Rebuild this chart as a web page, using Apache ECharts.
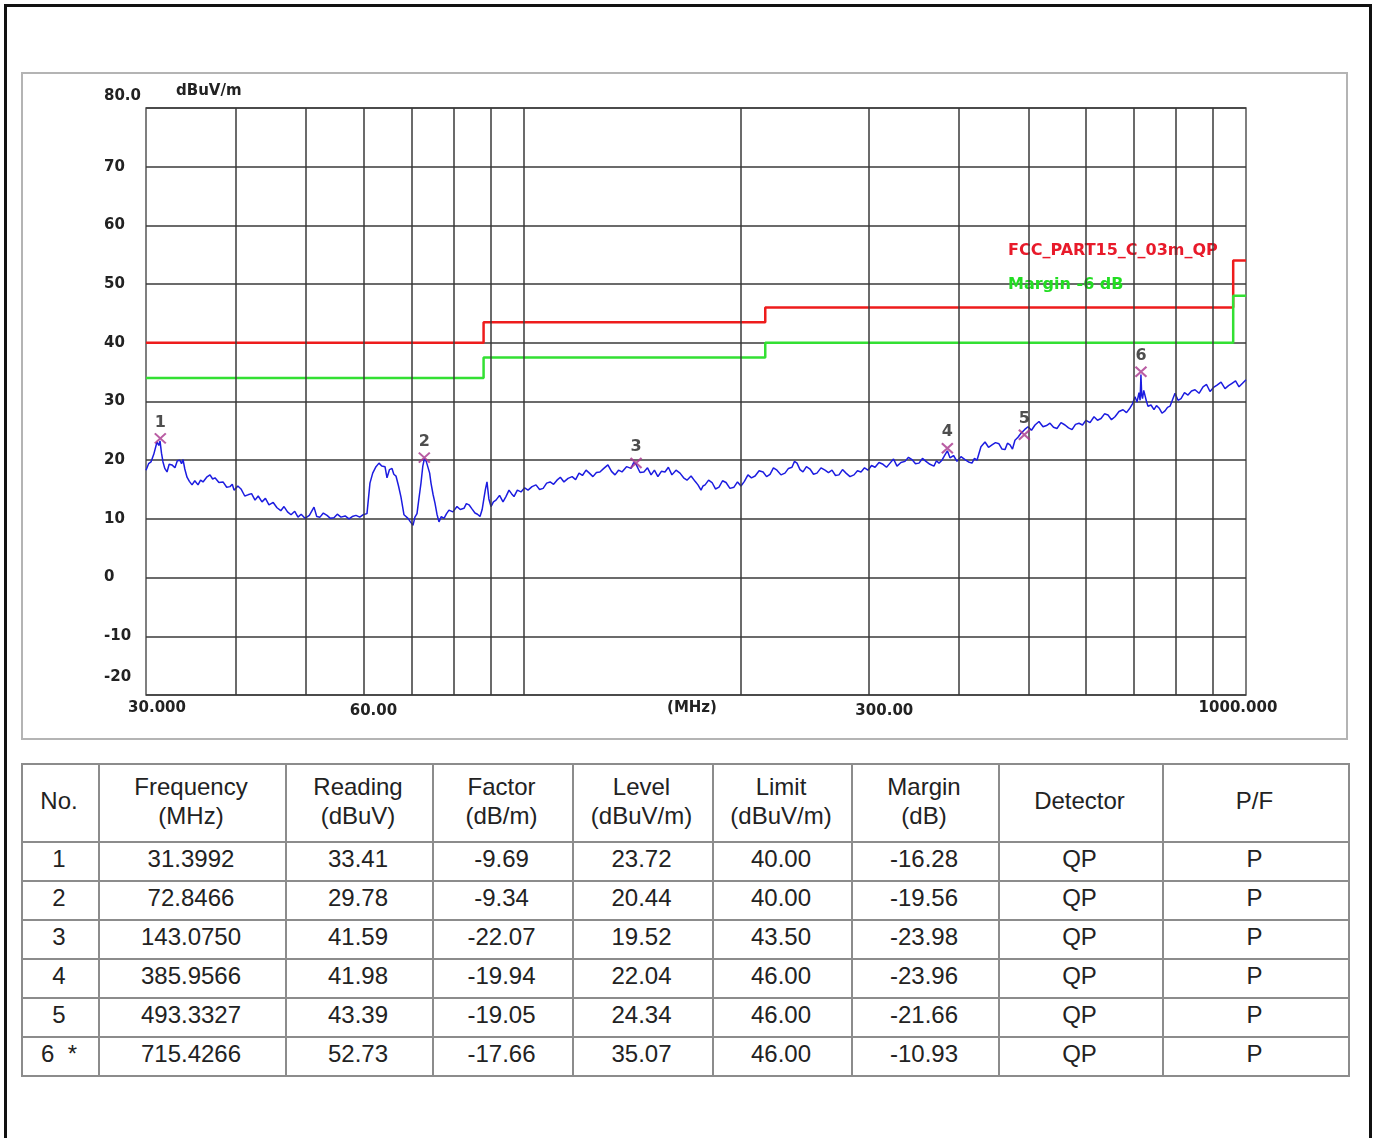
<!DOCTYPE html>
<html><head><meta charset="utf-8">
<script src="https://cdn.jsdelivr.net/npm/echarts@6/dist/echarts.min.js"></script>
<style>
html,body{margin:0;padding:0;background:#fff;width:1377px;height:1138px;overflow:hidden;position:relative;}
#frame{position:absolute;left:4px;top:4px;width:1362px;height:1200px;border:3px solid #111;}
#box{position:absolute;left:21px;top:72px;width:1323px;height:664px;border:2px solid #b4b4b4;}
#chart{position:absolute;left:0;top:0;width:1377px;height:750px;}
table{position:absolute;left:21px;top:763px;width:1327px;table-layout:fixed;border-collapse:collapse;font-family:"Liberation Sans",Arial,sans-serif;font-size:24px;color:#222;}
td,th{border:2px solid #8c8c8c;text-align:center;font-weight:normal;padding:0 3px 5px 0;}
thead tr{height:78px;} th{line-height:29px;}
tbody tr{height:39px;}
</style></head>
<body>
<div id="frame"></div>
<div id="box"></div>
<div id="chart"></div>
<table id="tbl"><colgroup><col style="width:77px"><col style="width:187px"><col style="width:147px"><col style="width:140px"><col style="width:140px"><col style="width:139px"><col style="width:147px"><col style="width:164px"><col style="width:186px"></colgroup><thead></thead><tbody></tbody></table>
<script>
// ---------- data ----------
const gridFreqs = [40,50,60,70,80,90,100,200,300,400,500,600,700,800,900];
const xTickFreqs = [30,60,171,300,1000];
const xTickLabels = ['30.000','60.00','(MHz)','300.00','1000.000'];
const yAxisTitle = 'dBuV/m';
const limitName = 'FCC_PART15_C_03m_QP';
const marginName = 'Margin -6 dB';
const limitFreq  = [30,88,88,216,216,960,960,1000];
const limitLevel = [40,40,43.5,43.5,46,46,54,54];
const marginLevel = [34,34,37.5,37.5,40,40,48,48];

// measured trace: [frequency MHz, level dBuV/m]
const tracePoints = [
[30.00,18.3],[30.25,19.4],[30.48,19.7],[30.75,21.0],[31.07,23.1],[31.25,22.5],[31.37,23.3],[31.52,21.2],[31.67,19.7],[31.85,18.6],
[32.08,18.0],[32.3,19.3],[32.59,19.2],[32.9,18.7],[33.15,19.9],[33.43,20.0],[33.6,19.4],[33.76,20.1],[33.95,18.5],[34.19,17.1],
[34.45,16.4],[34.74,15.8],[35.05,16.5],[35.41,15.8],[35.7,16.6],[35.98,16.3],[36.4,17.1],[36.79,17.5],[37.1,16.8],[37.38,17.0],
[37.85,16.2],[38.35,16.3],[38.8,15.4],[39.21,15.5],[39.5,15.9],[39.72,14.9],[40.2,15.6],[40.61,15.1],[41.1,13.9],[41.53,14.1],
[42.0,14.3],[42.47,13.2],[42.9,13.9],[43.42,12.9],[43.9,13.5],[44.40,12.4],[45.0,12.8],[45.55,11.9],[46.1,11.4],[46.58,12.1],
[47.1,11.2],[47.63,10.7],[48.2,11.3],[48.70,10.3],[49.2,10.8],[49.80,10.1],[50.5,10.6],[51.25,12.0],[51.7,10.4],[52.24,10.3],
[52.8,11.0],[53.42,10.6],[54.0,10.1],[54.62,10.2],[55.2,10.8],[55.85,10.3],[56.6,10.5],[57.30,10.0],[57.9,10.4],[58.59,10.6],
[59.3,10.3],[59.91,10.7],[60.68,10.9],[61.26,16.1],[61.8,17.8],[62.45,18.9],[63.05,19.5],[63.6,19.0],[64.27,18.9],[64.68,17.0],
[65.2,18.4],[65.72,18.6],[66.1,17.6],[66.56,17.3],[67.1,15.6],[67.63,13.7],[68.28,10.7],[68.7,10.5],[69.16,10.1],[69.7,9.5],
[70.27,8.9],[70.7,10.3],[71.17,10.9],[71.6,13.4],[72.08,16.1],[72.5,19.0],[72.85,20.2],[73.3,19.8],[73.71,19.5],[74.1,17.8],
[74.42,16.1],[74.9,14.2],[75.37,12.7],[75.85,10.8],[76.34,9.5],[76.9,10.4],[77.57,10.1],[78.2,10.9],[78.81,11.5],[79.8,11.2],
[80.85,12.1],[81.7,11.6],[82.67,11.8],[83.3,12.6],[84.00,12.4],[84.8,11.7],[85.62,11.0],[86.3,10.8],[87.00,10.4],[87.6,11.6],
[88.12,13.6],[88.5,15.0],[88.96,16.3],[89.5,13.4],[90.11,12.1],[90.8,12.9],[91.55,13.2],[92.6,14.0],[93.62,12.9],[94.5,13.8],
[95.43,14.9],[96.2,14.3],[96.96,13.8],[98.0,14.9],[99.15,14.6],[100.3,15.3],[101.4,14.9],[102.7,15.5],[104.0,15.8],[105.2,15.0],
[106.4,15.2],[107.6,16.1],[108.8,16.3],[110.0,15.9],[111.2,16.6],[112.4,17.1],[113.7,16.3],[115.2,16.9],[116.7,17.2],[118.0,16.7],
[119.3,17.8],[120.6,17.4],[122.0,18.3],[123.3,17.8],[124.7,17.2],[126.1,17.9],[127.5,18.0],[129.1,18.6],[130.8,19.2],[132.3,18.1],
[133.8,17.5],[135.3,18.3],[136.8,18.0],[138.8,18.9],[140.8,18.6],[142.0,19.6],[143.1,19.3],[144.9,17.9],[146.7,18.0],[148.4,18.7],
[150.1,17.5],[151.7,18.3],[153.4,17.2],[155.1,18.1],[156.9,18.0],[158.6,18.8],[160.4,17.5],[162.5,18.3],[164.6,17.8],[166.5,17.0],
[168.3,16.6],[170.5,17.3],[172.7,16.4],[174.3,15.8],[176.0,14.9],[177.1,15.6],[178.3,15.8],[180.3,16.6],[182.3,16.2],[184.3,15.1],
[186.4,15.4],[188.5,16.5],[190.6,16.2],[193.0,15.2],[195.5,15.4],[197.7,16.3],[199.9,15.6],[202.1,16.4],[204.4,17.5],[206.7,17.0],
[209.1,17.3],[211.8,18.2],[214.5,18.0],[216.9,17.2],[219.3,17.6],[221.7,18.7],[224.2,18.3],[227.1,17.5],[230.0,17.8],[232.6,18.6],
[235.2,18.8],[237.1,19.8],[239.0,19.5],[241.3,18.4],[243.6,18.0],[246.3,18.9],[249.1,18.5],[251.9,17.6],[254.7,17.8],[258.0,18.7],
[261.3,18.3],[264.2,17.9],[267.2,18.3],[270.2,17.4],[273.2,17.5],[276.3,18.4],[279.4,17.8],[283.0,17.2],[286.6,17.5],[289.8,18.2],
[293.1,18.0],[296.4,18.7],[299.7,18.3],[303.1,19.1],[306.5,18.8],[310.4,19.6],[314.4,19.3],[317.9,18.8],[321.5,19.5],[325.1,20.2],
[328.7,19.0],[332.9,19.6],[337.2,19.8],[341.0,20.5],[344.8,20.1],[348.7,19.4],[352.6,19.5],[356.5,20.3],[360.5,19.8],[365.1,19.3],
[369.8,19.0],[372.8,19.9],[375.8,19.5],[379.4,20.0],[383.0,20.9],[386.0,21.6],[389.2,20.4],[393.6,20.8],[398.0,19.8],[403.1,20.6],
[408.3,20.1],[412.9,19.7],[417.5,19.5],[420.8,20.3],[424.2,20.0],[429.6,22.3],[435.2,23.1],[440.1,22.2],[445.0,22.6],[450.0,23.0],
[455.0,22.8],[459.4,21.9],[463.8,21.8],[467.5,22.9],[471.3,22.6],[475.0,21.9],[478.8,23.4],[483.4,23.9],[488.1,24.6],[493.6,25.2],
[499.1,25.7],[504.7,25.1],[510.4,26.0],[516.9,26.6],[523.6,25.7],[529.5,25.9],[535.4,26.3],[541.4,25.6],[547.4,25.4],[554.5,26.4],
[561.6,26.0],[567.9,25.5],[574.3,25.2],[580.7,26.1],[587.2,26.3],[593.8,26.0],[600.5,26.8],[608.2,26.4],[616.0,27.4],[622.9,26.8],
[629.9,27.1],[637.0,27.9],[644.1,27.7],[651.3,26.9],[658.6,27.4],[667.1,28.3],[675.7,28.6],[683.2,28.1],[690.9,28.9],[696.4,29.6],
[702.0,30.8],[706.5,29.9],[711.0,31.5],[713.5,30.2],[715.4,34.6],[717.2,31.0],[719.0,30.5],[721.8,31.9],[724.7,32.0],[728.2,30.0],
[731.7,29.2],[738.7,29.4],[745.8,28.6],[751.8,29.3],[757.8,28.9],[765.1,28.0],[772.5,28.4],[778.7,29.0],[784.9,29.2],[791.2,30.3],
[797.5,31.4],[805.2,30.2],[812.9,30.5],[822.0,31.5],[831.2,31.1],[840.6,31.8],[850.0,32.0],[861.0,31.4],[872.0,32.5],[881.8,32.9],
[891.6,31.7],[901.7,32.4],[911.8,32.8],[923.5,33.3],[935.3,32.2],[945.8,32.7],[956.4,33.1],[967.2,33.5],[978.0,32.5],[989.0,33.1],
[1000,33.7]
];

const markerFreq  = [31.3992,72.8466,143.0750,385.9566,493.3327,715.4266];
const markerLevel = [23.72,20.44,19.52,22.04,24.34,35.07];

const headers = ['No.','Frequency<br>(MHz)','Reading<br>(dBuV)','Factor<br>(dB/m)','Level<br>(dBuV/m)','Limit<br>(dBuV/m)','Margin<br>(dB)','Detector','P/F'];
const colNo       = ['1','2','3','4','5','6 &nbsp;*'];
const colFreq     = ['31.3992','72.8466','143.0750','385.9566','493.3327','715.4266'];
const colReading  = ['33.41','29.78','41.59','41.98','43.39','52.73'];
const colFactor   = ['-9.69','-9.34','-22.07','-19.94','-19.05','-17.66'];
const colLevel    = ['23.72','20.44','19.52','22.04','24.34','35.07'];
const colLimit    = ['40.00','40.00','43.50','46.00','46.00','46.00'];
const colMargin   = ['-16.28','-19.56','-23.98','-23.96','-21.66','-10.93'];
const colDetector = ['QP','QP','QP','QP','QP','QP'];
const colPF       = ['P','P','P','P','P','P'];

// ---------- table ----------
const tbl = document.getElementById('tbl');
tbl.tHead.innerHTML = '<tr>' + headers.map(h => '<th>' + h + '</th>').join('') + '</tr>';
let rows = '';
for (let i = 0; i < colNo.length; i++) {
  rows += '<tr>' + [colNo[i],colFreq[i],colReading[i],colFactor[i],colLevel[i],colLimit[i],colMargin[i],colDetector[i],colPF[i]].map(c => '<td>' + c + '</td>').join('') + '</tr>';
}
tbl.tBodies[0].innerHTML = rows;

// ---------- chart ----------
const FONT = '"DejaVu Sans", sans-serif';
const TXT = {fontFamily:FONT, fontWeight:'bold', fontSize:15, color:'#222'};
const chart = echarts.init(document.getElementById('chart'), null, {renderer:'canvas'});
const lmin = Math.log10(30), lmax = Math.log10(1000);
const xLabelStyles = ['s0','s1','s2','s3','s4'];
const option = {
  animation: false,
  backgroundColor: 'transparent',
  grid: {left:146, right:131, top:108, bottom:55, show:true, borderColor:'#555', borderWidth:1.5, backgroundColor:'transparent'},
  legend: {
    left: 998, top: 238, orient: 'vertical', itemGap: 18, itemWidth: 0, itemHeight: 14, icon: 'none',
    selectedMode: false,
    textStyle: {fontFamily: FONT, fontWeight: 'bold', fontSize: 16},
    data: [
      {name: limitName, textStyle: {color: '#e81a2a'}},
      {name: marginName, textStyle: {color: '#22dd22'}}
    ]
  },
  xAxis: [
    {type:'log', logBase:10, min:30, max:1000, gridIndex:0,
     axisLine:{show:false}, axisTick:{show:false}, axisLabel:{show:false}, splitLine:{show:false}},
    {type:'value', min:lmin, max:lmax, gridIndex:0, position:'bottom',
     axisLine:{show:false}, axisTick:{show:false}, splitLine:{show:false},
     axisLabel:Object.assign({
       customValues: xTickFreqs.map(f => Math.log10(f)),
       formatter: (v) => { let best = 0, d = 1e9; xTickFreqs.forEach((f,i)=>{const dd=Math.abs(Math.log10(f)-v); if(dd<d){d=dd;best=i;}}); return '{' + xLabelStyles[best] + '|' + xTickLabels[best] + '}'; },
       margin: 6, showMinLabel:true, showMaxLabel:true,
       rich: {
         s0: Object.assign({}, TXT, {padding:[0,0,0,22]}),
         s1: Object.assign({}, TXT, {padding:[3,0,0,20]}),
         s2: Object.assign({}, TXT, {padding:[0,0,0,0]}),
         s3: Object.assign({}, TXT, {padding:[3,0,0,32]}),
         s4: Object.assign({}, TXT, {padding:[0,16,0,0]})
       }
     }, TXT)}
  ],
  yAxis: {
    type:'value', min:-20, max:80, interval:10,
    name: yAxisTitle, nameLocation:'end', nameGap: 9,
    nameTextStyle: Object.assign({}, TXT, {align:'left', padding:[0,0,0,30]}),
    axisLine:{show:false}, axisTick:{show:false},
    splitLine:{show:true, lineStyle:{color:'#3a3a3a', width:1.5}},
    axisLabel: Object.assign({
      align:'left', margin:42,
      formatter: (v) => v === 80 ? '{up|80.0}' : (v === -20 ? '{dn|-20}' : String(v)),
      rich: {
        up: Object.assign({}, TXT, {padding:[0,0,24,0]}),
        dn: Object.assign({}, TXT, {padding:[0,0,36,0]})
      }
    }, TXT)
  },
  series: [
    {
      name: 'grid', type:'line', xAxisIndex:0, data: [], silent:true,
      markLine: {silent:true, symbol:['none','none'], label:{show:false},
        lineStyle:{color:'#3a3a3a', width:1.5, type:'solid'},
        data: gridFreqs.map(f => ({xAxis: f}))}
    },
    {
      name: 'trace', type:'line', xAxisIndex:0, showSymbol:false, symbol:'none',
      lineStyle:{color:'#1c1ce0', width:1.5}, z:3,
      data: tracePoints
    },
    {
      name: limitName, type:'line', xAxisIndex:0, showSymbol:false, symbol:'none', color:'#ee1c1c',
      lineStyle:{color:'#ee1c1c', width:2.5}, z:4,
      data: limitFreq.map((f,i) => [f, limitLevel[i]])
    },
    {
      name: marginName, type:'line', xAxisIndex:0, showSymbol:false, symbol:'none', color:'#22dd22',
      lineStyle:{color:'#33e033', width:2.5}, z:4,
      data: limitFreq.map((f,i) => [f, marginLevel[i]])
    },
    {
      name: 'markers', type:'scatter', xAxisIndex:0, z:6,
      symbol: 'path://M0,0L10,10M10,0L0,10', symbolSize:[11,10],
      itemStyle:{color:'rgba(0,0,0,0)', borderColor:'#a8358c', borderWidth:2},
      label:Object.assign({show:true, position:'top', distance:2, formatter:(p)=> String(p.dataIndex+1)}, TXT, {fontSize:16}),
      data: markerFreq.map((f,i) => [f, markerLevel[i]])
    }
  ]
};
chart.setOption(option);
</script>
</body></html>
